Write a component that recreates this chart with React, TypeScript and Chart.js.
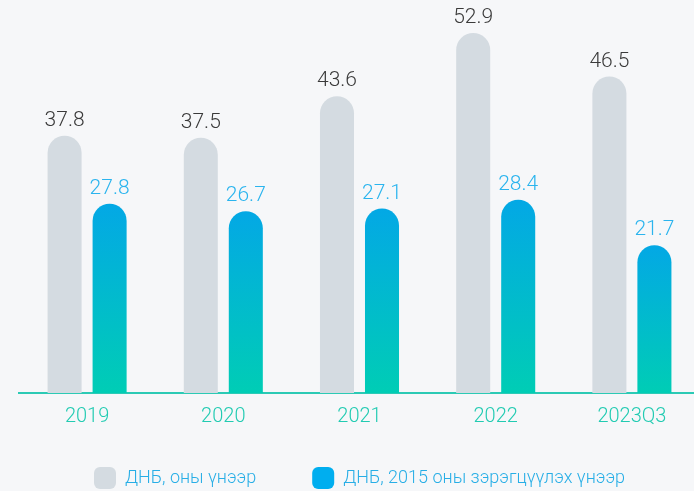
import React, { useEffect, useRef } from "react";
import { Chart, registerables } from "chart.js";

Chart.register(...registerables);

const categories = ["2019", "2020", "2021", "2022", "2023Q3"];
const nominalGdp = [37.8, 37.5, 43.6, 52.9, 46.5];
const realGdp = [27.8, 26.7, 27.1, 28.4, 21.7];
const seriesNames = ["ДНБ, оны үнээр", "ДНБ, 2015 оны зэрэгцүүлэх үнээр"];

const FONT = 'Roboto, "Noto Sans", sans-serif';
const BG = "#f6f7f9";
const GRAY = "#d4dbe1";
const BLUE_TOP = "#03a8e5";
const TEAL_BOTTOM = "#00cdb5";
const LEGEND_BLUE = "#00aeef";

const valueLabels = {
  id: "valueLabels",
  afterDatasetsDraw(chart: any) {
    const ctx = chart.ctx;
    const colors = ["#3a3a3a", "#2ab4ee"];
    ctx.save();
    ctx.font = `300 21px ${FONT}`;
    ctx.textAlign = "center";
    ctx.textBaseline = "alphabetic";
    chart.data.datasets.forEach((ds: any, di: number) => {
      const meta = chart.getDatasetMeta(di);
      ctx.fillStyle = colors[di];
      meta.data.forEach((el: any, i: number) => {
        ctx.fillText(ds.data[i].toFixed(1), el.x, el.y - 10);
      });
    });
    ctx.restore();
  },
};

// let the x tick labels use the empty space above the legend items
const expandXLabelArea = {
  id: "expandXLabelArea",
  afterLayout(chart: any) {
    const x = chart.scales.x;
    if (x) x.bottom = x.top + 50;
  },
};

const radius = { topLeft: 17, topRight: 17, bottomLeft: 0, bottomRight: 0 };

export default function App() {
  const ref = useRef<HTMLCanvasElement>(null);
  useEffect(() => {
    if (!ref.current) return;
    const chart = new Chart(ref.current, {
      type: "bar",
      data: {
        labels: categories,
        datasets: [
          {
            label: seriesNames[0],
            data: nominalGdp,
            backgroundColor: GRAY,
            borderRadius: radius,
            borderSkipped: false,
          },
          {
            label: seriesNames[1],
            data: realGdp,
            backgroundColor: (c: any) => {
              const ch = c.chart;
              const ys = ch.scales && ch.scales.y;
              if (!ch.chartArea || !ys || c.type !== "data") return LEGEND_BLUE;
              const top = ys.getPixelForValue(c.raw);
              const bottom = ys.getPixelForValue(0);
              const g = ch.ctx.createLinearGradient(0, top, 0, bottom);
              g.addColorStop(0, BLUE_TOP);
              g.addColorStop(1, TEAL_BOTTOM);
              return g;
            },
            borderRadius: radius,
            borderSkipped: false,
          },
        ],
      },
      options: {
        responsive: false,
        animation: false,
        layout: { padding: { left: 19, right: 20, top: 0, bottom: 0 } },
        datasets: { bar: { categoryPercentage: 0.661, barPercentage: 0.756 } } as any,
        scales: {
          x: {
            grid: { display: false },
            border: { display: true, color: "#2ccab5", width: 2 },
            ticks: {
              color: "#22cbb2",
              font: { family: FONT, size: 20, weight: "300" as any },
              padding: 4,
            },
            afterFit: (scale: any) => {
              scale.height = 18;
            },
          },
          y: {
            display: false,
            min: 0,
            max: 57.75,
          },
        },
        plugins: {
          tooltip: { enabled: false },
          legend: {
            position: "bottom",
            labels: {
              boxWidth: 22,
              boxHeight: 22,
              useBorderRadius: true,
              borderRadius: 6,
              color: "#27aee6",
              padding: 56,
              font: { family: FONT, size: 18, weight: "300" as any },
              generateLabels: (ch: any) => {
                const items = Chart.defaults.plugins.legend.labels.generateLabels(ch);
                const fills = [GRAY, LEGEND_BLUE];
                return items.map((it: any, i: number) => ({
                  ...it,
                  fillStyle: fills[i],
                  strokeStyle: fills[i],
                  lineWidth: 0,
                }));
              },
            },
          } as any,
        },
      },
      plugins: [valueLabels, expandXLabelArea],
    });
    return () => chart.destroy();
  }, []);
  return (
    <div style={{ position: "fixed", left: 0, top: 0, width: "100vw", height: "100vh", background: BG, overflow: "hidden" }}>
      <canvas ref={ref} width={720} height={499} style={{ position: "absolute", left: 0, top: 0, width: 720, height: 499 }} />
    </div>
  );
}
